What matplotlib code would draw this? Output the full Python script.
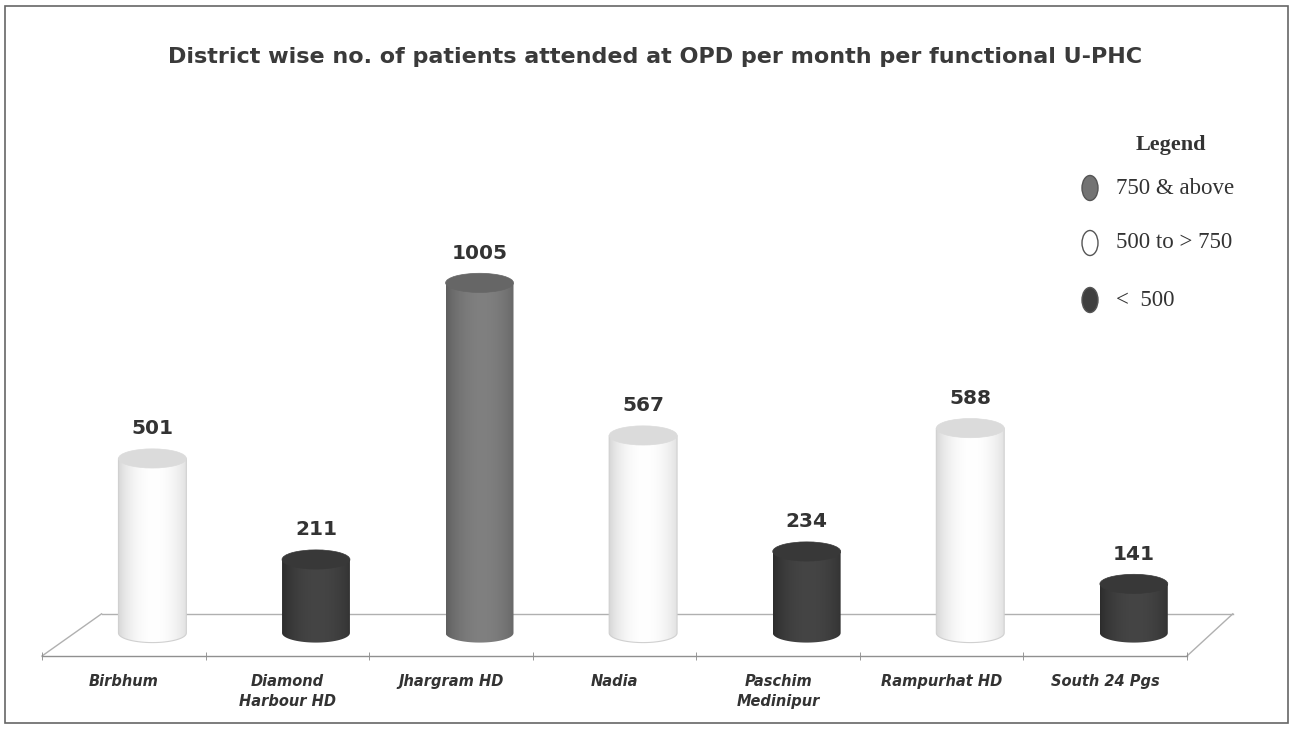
import numpy as np
import matplotlib
matplotlib.use("Agg")
import matplotlib.pyplot as plt
from matplotlib.patches import Ellipse, PathPatch, Rectangle
from matplotlib.path import Path
import matplotlib.transforms as mtransforms

# data
districts = ["Birbhum", "Diamond\nHarbour HD", "Jhargram HD", "Nadia",
             "Paschim\nMedinipur", "Rampurhat HD", "South 24 Pgs"]
patients = [501, 211, 1005, 567, 234, 588, 141]
legend_labels = ["750 & above", "500 to > 750", "<  500"]

title = "District wise no. of patients attended at OPD per month per functional U-PHC"

# colour tones: (side edge, side highlight, top cap)
tones = {
    "high": ((0.34, 0.34, 0.34), (0.50, 0.50, 0.50), (0.40, 0.40, 0.40)),
    "mid": ((0.80, 0.80, 0.80), (1.00, 1.00, 1.00), (0.86, 0.86, 0.86)),
    "low": ((0.15, 0.15, 0.15), (0.27, 0.27, 0.27), (0.22, 0.22, 0.22)),
}


def tone_of(v):
    if v >= 750:
        return "high"
    if v >= 500:
        return "mid"
    return "low"


fig = plt.figure(figsize=(12.93, 7.30), dpi=100)
ax = fig.add_axes([42 / 1293, (730 - 656) / 730, 1145 / 1293, 439 / 730])

y_lo, y_hi = -66, 1194
bar_w = 0.415
bar_off = 0.175
cap_h = 55

# floor (back and side edges)
blend = mtransforms.blended_transform_factory(ax.transAxes, ax.transData)
floor_kw = dict(color="#b0b0b0", lw=1.0, transform=blend, clip_on=False, zorder=1)
ax.plot([0.052, 1.040], [55, 55], **floor_kw)
ax.plot([0.0, 0.052], [y_lo, 55], **floor_kw)
ax.plot([1.0, 1.040], [y_lo, 55], **floor_kw)

x_prof = np.linspace(0, 1, 80)
profile = np.clip(np.sin(np.pi * (x_prof * 0.9 + 0.02)), 0, 1) ** 0.6

for i, v in enumerate(patients):
    edge, hi, top = tones[tone_of(v)]
    cx = i + bar_off
    x0, x1 = cx - bar_w / 2, cx + bar_w / 2
    rgb = np.array(edge)[None, :] + (np.array(hi) - np.array(edge))[None, :] * profile[:, None]
    img = rgb[None, :, :]
    im = ax.imshow(img, extent=(x0, x1, -cap_h / 2, v), aspect="auto",
                   interpolation="bilinear", zorder=3)
    t = np.linspace(np.pi, 2 * np.pi, 40)
    verts = [(x0, v)] + list(zip(cx + bar_w / 2 * np.cos(t), cap_h / 2 * np.sin(t))) + [(x1, v), (x0, v)]
    codes = [Path.MOVETO] + [Path.LINETO] * (len(verts) - 2) + [Path.CLOSEPOLY]
    body = PathPatch(Path(verts, codes), facecolor="none", edgecolor="none",
                     transform=ax.transData)
    ax.add_patch(body)
    im.set_clip_path(body)
    if tone_of(v) == "mid":
        ax.add_patch(PathPatch(Path(verts, codes), facecolor="none",
                               edgecolor="#d0d0d0", lw=0.8, zorder=3.5))
    ax.add_patch(Ellipse((cx, v), bar_w, cap_h, facecolor=top,
                         edgecolor=top, lw=0.5, zorder=4))
    ax.text(cx, v + 85, str(v), ha="center", va="center", fontsize=14.5,
            fontweight="bold", color="#333333", zorder=5)

ax.set_xlim(-0.5, len(patients) - 0.5)
ax.set_ylim(y_lo, y_hi)
ax.set_xticks(range(len(districts)))
ax.set_xticklabels(districts, fontsize=10.5, fontstyle="italic", fontweight="bold",
                   color="#333333", linespacing=1.45)
ax.set_xticks(np.arange(-0.5, len(patients), 1.0), minor=True)
ax.tick_params(axis="x", which="major", length=0, pad=13)
ax.tick_params(axis="x", which="minor", length=6, direction="inout", color="#888888")
ax.set_yticks([])
for s in ["top", "left", "right"]:
    ax.spines[s].set_visible(False)
ax.spines["bottom"].set_color("#909090")
ax.spines["bottom"].set_linewidth(1.0)
ax.patch.set_alpha(0)

fig.text(655 / 1293, 1 - 57 / 730, title, ha="center", va="center", fontsize=16,
         fontweight="bold", color="#3a3a3a")

# legend
serif = "Liberation Serif"
fig.text(1171 / 1293, 1 - 145 / 730, "Legend", ha="center", va="center",
         fontsize=16, fontweight="bold", family=serif, color="#333333")
legend_y = [188, 243, 300]
for lab, ly, key in zip(legend_labels, legend_y, ["high", "mid", "low"]):
    fc = (0.45, 0.45, 0.45) if key == "high" else ("white" if key == "mid" else (0.25, 0.25, 0.25))
    fig.add_artist(Ellipse((1090 / 1293, 1 - ly / 730), 16 / 1293, 25 / 730,
                           transform=fig.transFigure, facecolor=fc,
                           edgecolor="#555555", lw=1.0))
    fig.text(1116 / 1293, 1 - ly / 730, lab, ha="left", va="center",
             fontsize=16.5, family=serif, color="#333333")

fig.add_artist(Rectangle((0.004, 0.01), 0.992, 0.982, transform=fig.transFigure,
                         fill=False, edgecolor="#666666", lw=1.2))

fig.savefig("out.png", dpi=100, facecolor="white")
